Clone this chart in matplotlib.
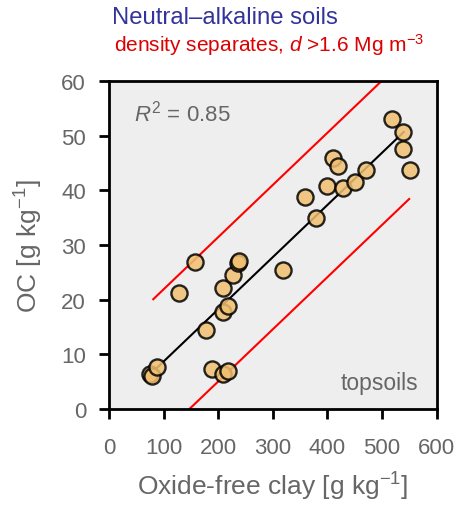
import numpy as np
import matplotlib
matplotlib.use('Agg')
import matplotlib.pyplot as plt

plt.rcParams['font.family'] = ['Liberation Sans', 'DejaVu Sans']
plt.rcParams['mathtext.fontset'] = 'custom'
plt.rcParams['mathtext.rm'] = 'Liberation Sans'
plt.rcParams['mathtext.it'] = 'Liberation Sans:italic'

# oxide-free clay [g/kg] vs OC [g/kg], topsoils
clay = [76, 78, 88, 128, 157, 178, 188, 208, 208, 208, 218, 218, 228, 237, 239,
        319, 359, 379, 399, 410, 419, 429, 450, 470, 519, 539, 539, 551]
oc = [6.4, 6.0, 7.6, 21.3, 26.9, 14.5, 7.3, 22.1, 17.8, 6.4, 18.9, 7.0, 24.5, 26.7, 27.1,
      25.5, 38.8, 34.9, 40.7, 46.0, 44.5, 40.4, 41.5, 43.7, 53.0, 50.6, 47.6, 43.8]

# regression and prediction band
slope = 0.0954
intercept = -0.85
band = 13.2
fit_x = [80, 540]
upper_x = [81, 501]
lower_x = [145, 550]

xticks = [0, 100, 200, 300, 400, 500, 600]
yticks = [0, 10, 20, 30, 40, 50, 60]

gray = '#666666'

fig = plt.figure(figsize=(4.59, 5.06), dpi=100)
ax = fig.add_axes([0.2375, 0.1897, 0.7135, 0.6483])
ax.set_facecolor('#eeeeee')

fx = np.array(fit_x)
ax.plot(fx, slope * fx + intercept, color='black', lw=1.5, zorder=2)
ux = np.array(upper_x)
ax.plot(ux, slope * ux + intercept + band, color='red', lw=1.5, zorder=2)
lx = np.array(lower_x)
ax.plot(lx, slope * lx + intercept - band, color='red', lw=1.5, zorder=2)

ax.scatter(clay, oc, s=135, facecolor='#f0c070', edgecolor='black', linewidth=1.7,
           alpha=0.85, zorder=3)

ax.set_xlim(0, 600)
ax.set_ylim(0, 60)
ax.set_xticks(xticks)
ax.set_yticks(yticks)
ax.tick_params(direction='out', length=7.5, width=2, colors='black',
               labelcolor=gray, labelsize=16)
ax.tick_params(axis='x', pad=13)
ax.tick_params(axis='y', pad=9)
for s in ax.spines.values():
    s.set_linewidth(2)

ax.set_xlabel('Oxide-free clay [g kg$^{-1}$]', color=gray, fontsize=19, labelpad=8)
ax.set_ylabel('OC [g kg$^{-1}$]', color=gray, fontsize=19, labelpad=12)

ax.text(0.076, 0.905, '$R^2$ = 0.85', transform=ax.transAxes, color=gray,
        fontsize=16, va='center', ha='left')
ax.text(0.945, 0.082, 'topsoils', transform=ax.transAxes, color=gray,
        fontsize=16.5, va='center', ha='right')

fig.text(112 / 459, 1 - 18 / 506, 'Neutral\u2013alkaline soils', color='#333399',
         fontsize=17.2, va='center', ha='left')
fig.text(114 / 459, 1 - 45 / 506, 'density separates, $d$ >1.6 Mg m$^{\u2212 3}$',
         color='#dd0000', fontsize=15, va='center', ha='left')

fig.savefig('out.png', dpi=100)
